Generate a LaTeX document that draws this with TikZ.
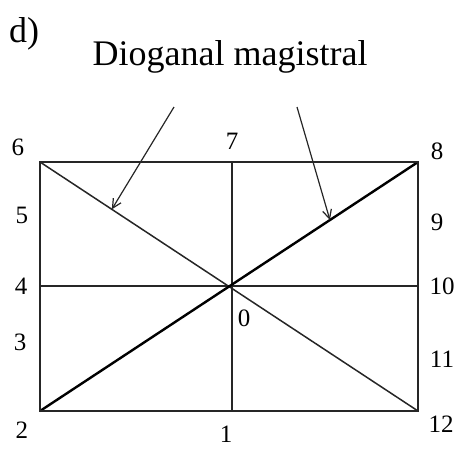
\documentclass[tikz,border=0pt]{standalone}
\usepackage{fontspec}
\setmainfont{Liberation Serif}
\usetikzlibrary{arrows.meta, calc}
\tikzset{
    line cap=round,
    line join=round,
    frame/.style={draw=black!85, line width=1.8pt},
    axisline/.style={draw=black!85, line width=1.4pt},
    thindiag/.style={draw=black!85, line width=1.5pt},
    maindiag/.style={draw=black, line width=2.4pt},
    pointer/.style={-{Straight Barb[length=9pt, width=9pt, line width=1.2pt]}, draw=black!85, line width=1.2pt},
    numlabel/.style={font=\fontsize{25}{28}\selectfont, inner sep=0pt},
    heading/.style={font=\fontsize{36}{40}\selectfont, inner sep=0pt}
}
\begin{document}
\begin{tikzpicture}[x=1pt, y=-1pt]
\useasboundingbox (0,0) rectangle (462,448);

% Frame corners and midpoints
\coordinate (c2) at (40,411);
\coordinate (c12) at (418,411);
\coordinate (c8) at (418,162);
\coordinate (c6) at (40,162);
\coordinate (c1) at (232,411);
\coordinate (c7) at (232,162);
\coordinate (c4) at (40,286);
\coordinate (c10) at (418,286);
\coordinate (c0) at (232,286);

% Frame, axes, diagonals
\draw[axisline] (c4) -- (c10);
\draw[axisline] (c1) -- (c7);
\draw[thindiag] (c6) -- (c12);
\draw[maindiag] (c2) -- (c8);
\draw[frame] (c2) rectangle (c8);

% Headers
\node[heading, anchor=base west] (tag) at (9,42) {d)};
\node[heading, anchor=base] (title) at (230,65) {Dioganal magistral};

% Pointers to the diagonals
\coordinate (p1) at (174,107);
\coordinate (p2) at (297,107);
\draw[pointer] (p1) -- ($(c6)!0.19!(c12)$);
\draw[pointer] (p2) -- ($(c2)!0.767!(c8)$);

% Numbers
\node[numlabel] (n6) at (18,147) {6};
\node[numlabel] (n7) at (232,141) {7};
\node[numlabel] (n8) at (437,151) {8};
\node[numlabel] (n5) at (22,215) {5};
\node[numlabel] (n9) at (437,222) {9};
\node[numlabel] (n4) at (21,286) {4};
\node[numlabel] (n10) at (442,286) {10};
\node[numlabel] (n3) at (20,342) {3};
\node[numlabel] (n11) at (442,359) {11};
\node[numlabel] (n2) at (22,430) {2};
\node[numlabel] (n1) at (226,434) {1};
\node[numlabel] (n12) at (441,424) {12};
\node[numlabel] (n0) at (244,318) {0};

\end{tikzpicture}
\end{document}
